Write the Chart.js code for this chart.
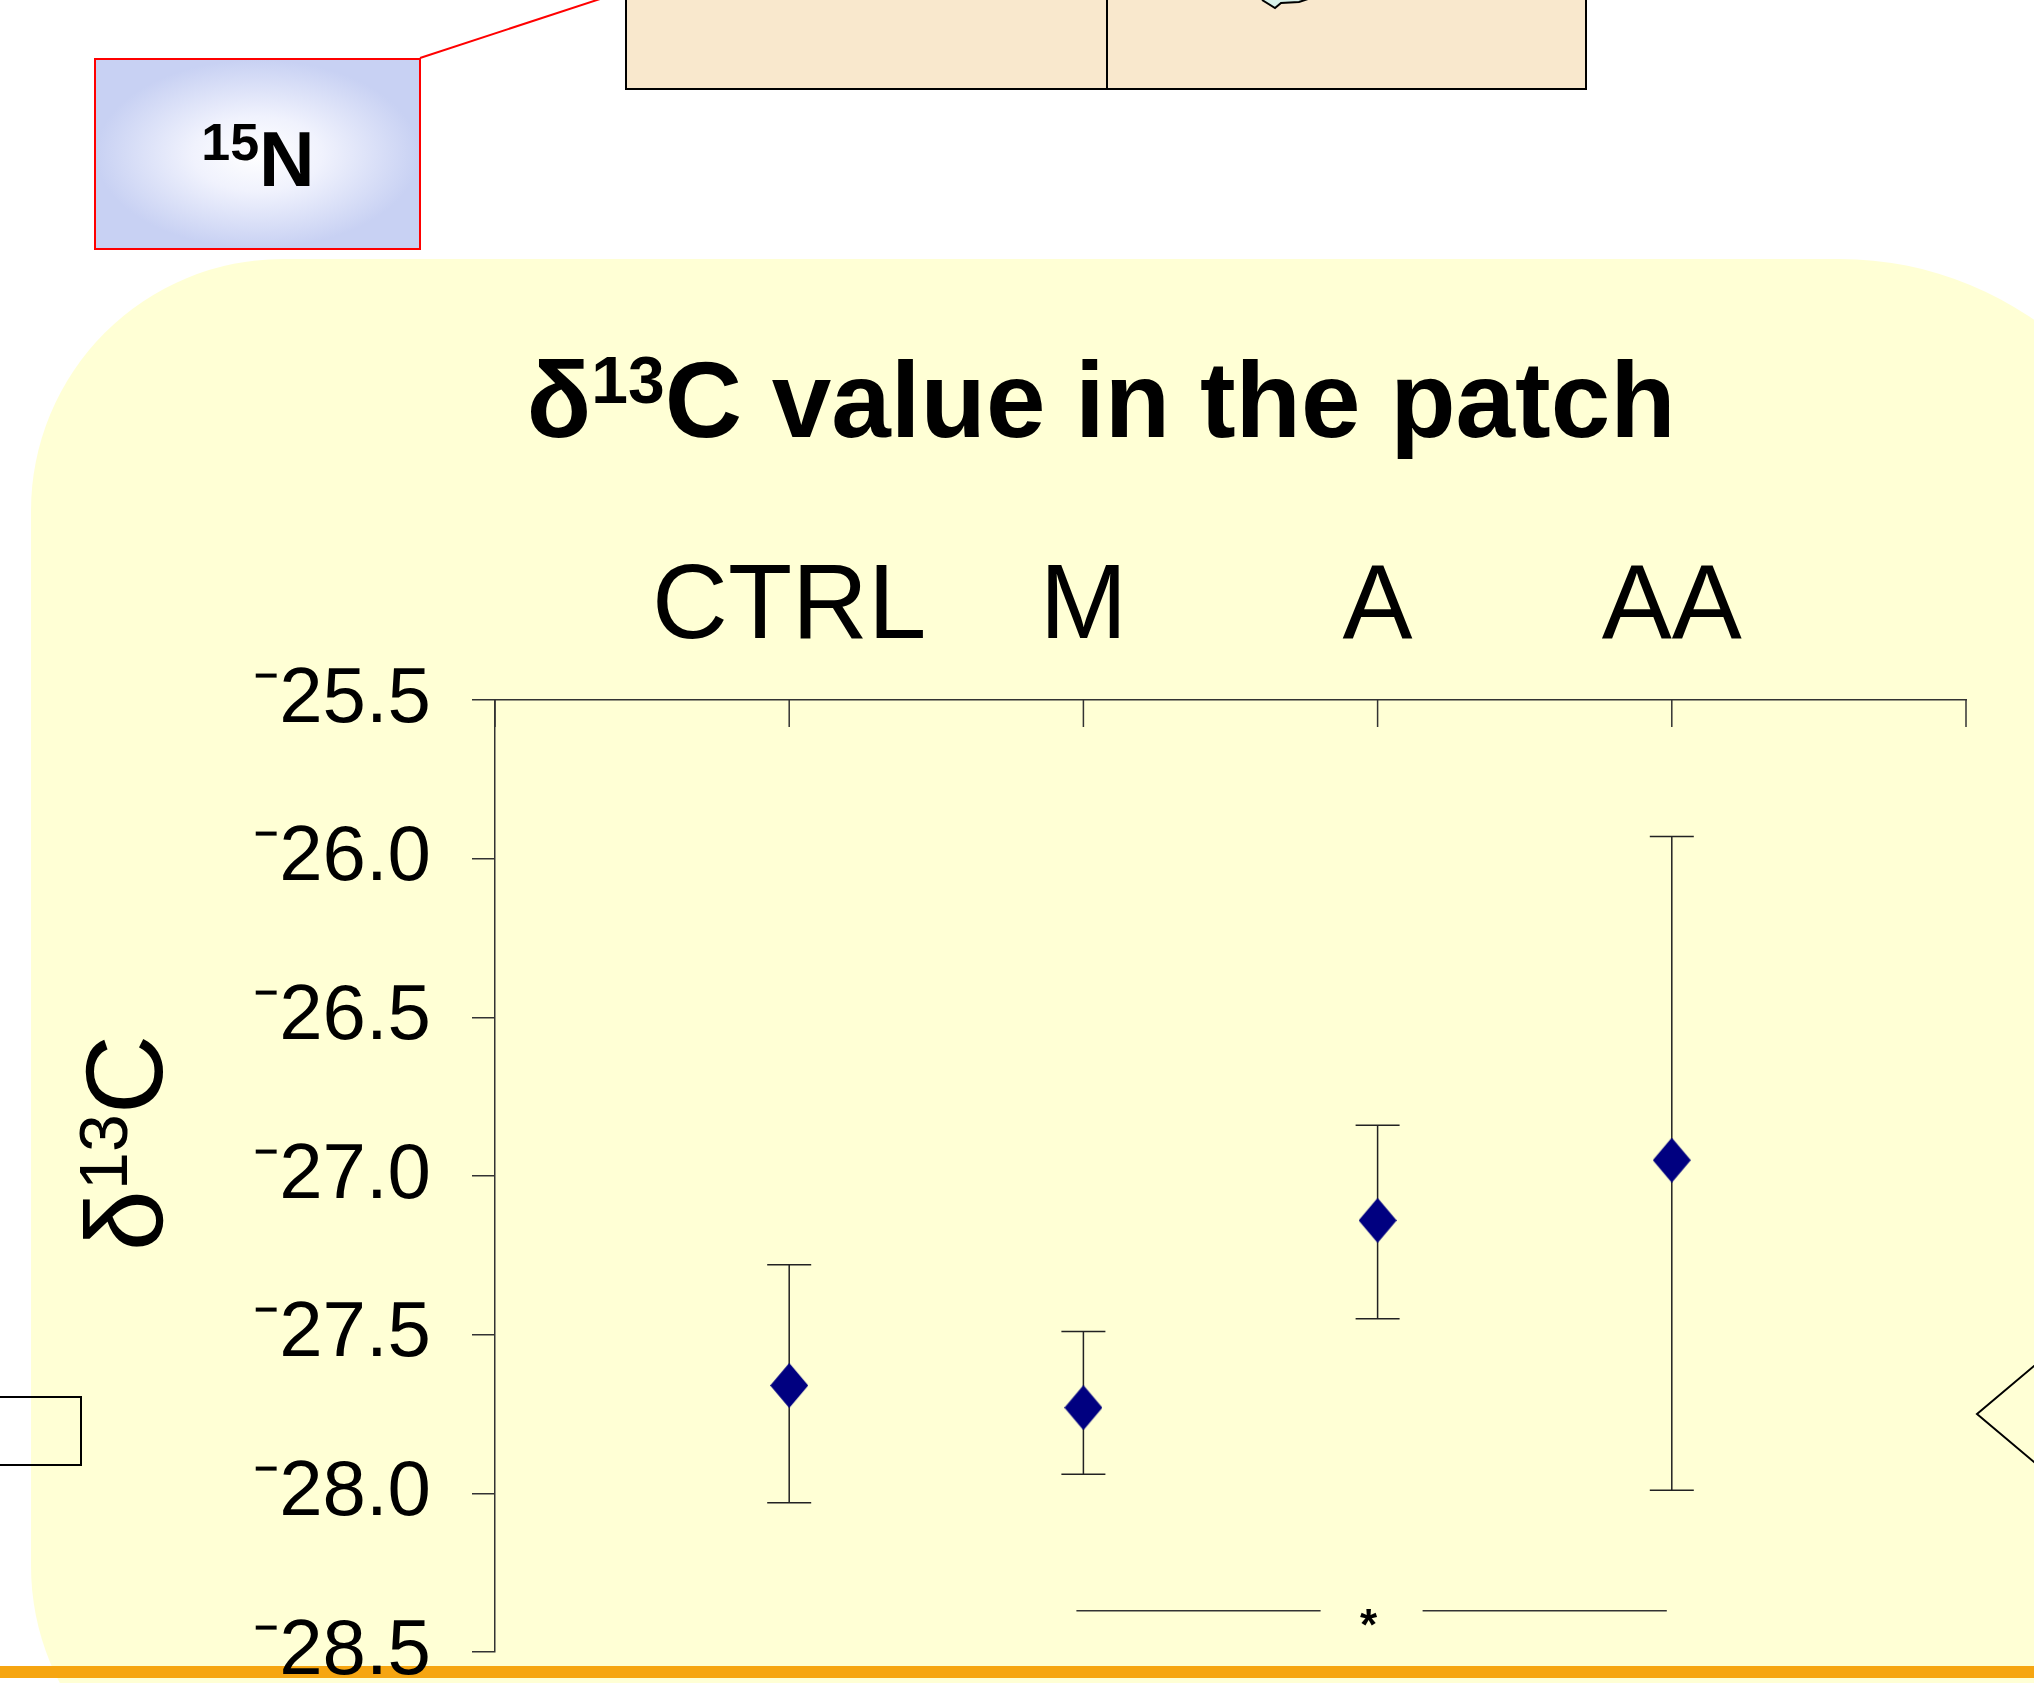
<!DOCTYPE html>
<html lang="en">
<head>
    <meta charset="UTF-8">
    <title>δ13C value in the patch</title>
    <script src="https://cdn.jsdelivr.net/npm/chart.js"></script>
    <style>
        html, body { margin: 0; padding: 0; width: 2034px; height: 1683px; overflow: hidden; background: #fff; }
        body { position: relative; font-family: 'Liberation Sans', Arial, sans-serif; color: #000; }
        .panel { position: absolute; left: 31px; top: 259px; width: 2149px; height: 1559px;
                 background: #ffffd5; border-radius: 252px 340px 252px 252px; }
        .orange { position: absolute; left: 0; top: 1666px; width: 2034px; height: 12px; background: #f6a511; }
        .table { position: absolute; left: 625px; top: -4px; width: 958px; height: 90px;
                 background: #f9e8cd; border: 2px solid #000; }
        .table .divider { position: absolute; left: 479px; top: 0; bottom: 0; border-left: 2px solid #000; }
        .isotope { position: absolute; left: 94px; top: 58px; width: 323px; height: 188px; border: 2px solid #f00;
                   background: radial-gradient(ellipse farthest-side at 50% 50%, #ffffff 0%, #f0f2fd 40%, #c8d1f3 100%); }
        .isotope-text { position: absolute; left: 258px; top: 121px; transform: translateX(-50%);
                        font-size: 77px; line-height: 77px; font-weight: bold; white-space: nowrap; }
        .isotope-text span { font-size: 52px; position: relative; top: -26px; }
        #title { position: absolute; left: 1101px; top: 347px; transform: translateX(-50%);
                 font-size: 107px; line-height: 106px; font-weight: bold; white-space: nowrap; }
        #title span { font-size: 66px; position: relative; top: -34px; }
        .ytitle-wrap { position: absolute; left: 162px; top: 1143px; transform: rotate(-90deg); transform-origin: 0 0; }
        #ytitle { position: absolute; left: 0; top: -93px; transform: translateX(-50%);
                  font-size: 110px; line-height: 110px; white-space: nowrap; }
        #ytitle span { font-size: 68px; position: relative; top: -35px; }
        #shapes { position: absolute; left: 0; top: 0; }
        #myChart { position: absolute; left: 0; top: 0; }
    </style>
</head>
<body>
    <div class="panel"></div>
    <div class="orange"></div>
    <div class="table"><div class="divider"></div></div>
    <div class="isotope"></div>
    <div class="isotope-text"><span>15</span>N</div>
    <svg id="shapes" width="2034" height="1683">
        <line x1="420" y1="58" x2="600" y2="-1" stroke="#f00" stroke-width="2"/>
        <path d="M1262,0 L1275,8 L1281,3 L1299,2 L1311,-2" fill="#d9f2ea" stroke="#000" stroke-width="2"/>
        <rect x="-3" y="1397" width="84" height="68" fill="none" stroke="#000" stroke-width="2"/>
        <path d="M2040,1361 L1977,1414 L2040,1467" fill="none" stroke="#000" stroke-width="2"/>
    </svg>

    <canvas id="myChart" width="2034" height="1683"></canvas>

    <div id="title">δ<span>13</span>C value in the patch</div>
    <div class="ytitle-wrap"><div id="ytitle">δ<span>13</span>C</div></div>

    <script>
        const categories = ['CTRL', 'M', 'A', 'AA'];
        const meanValues = [-27.66, -27.73, -27.14, -26.95];
        const upperValues = [-27.28, -27.49, -26.84, -25.93];
        const lowerValues = [-28.03, -27.94, -27.45, -27.99];
        const yMin = -28.5;
        const yMax = -25.5;
        const yStep = 0.5;
        // significance bracket between two groups
        const sigFrom = 'M';
        const sigTo = 'AA';
        const sigLevel = -28.37;
        const sigLabel = '*';

        Chart.defaults.font.family = "'Liberation Sans', Arial, sans-serif";

        function diamond(w, h, color) {
            const c = document.createElement('canvas');
            c.width = w;
            c.height = h;
            const g = c.getContext('2d');
            g.fillStyle = color;
            g.beginPath();
            g.moveTo(w / 2, 0);
            g.lineTo(w, h / 2);
            g.lineTo(w / 2, h);
            g.lineTo(0, h / 2);
            g.closePath();
            g.fill();
            return c;
        }

        const errorBars = {
            id: 'errorBars',
            beforeDatasetsDraw(chart) {
                const {ctx, scales: {x, y}} = chart;
                ctx.save();
                ctx.strokeStyle = '#222';
                ctx.lineWidth = 1.5;
                categories.forEach(function (c, i) {
                    const px = x.getPixelForValue(i + 1);
                    const top = y.getPixelForValue(upperValues[i]);
                    const bot = y.getPixelForValue(lowerValues[i]);
                    ctx.beginPath();
                    ctx.moveTo(px, top);
                    ctx.lineTo(px, bot);
                    ctx.moveTo(px - 22, top);
                    ctx.lineTo(px + 22, top);
                    ctx.moveTo(px - 22, bot);
                    ctx.lineTo(px + 22, bot);
                    ctx.stroke();
                });
                ctx.restore();
            }
        };

        const innerTicks = {
            id: 'innerTicks',
            afterDraw(chart) {
                const {ctx, scales: {x}, chartArea} = chart;
                ctx.save();
                ctx.strokeStyle = '#333';
                ctx.lineWidth = 1.5;
                x.ticks.forEach(function (t) {
                    const px = x.getPixelForValue(t.value);
                    ctx.beginPath();
                    ctx.moveTo(px, chartArea.top);
                    ctx.lineTo(px, chartArea.top + 27);
                    ctx.stroke();
                });
                ctx.restore();
            }
        };

        const sigMark = {
            id: 'sigMark',
            afterDraw(chart) {
                const {ctx, scales: {x, y}} = chart;
                const x1 = x.getPixelForValue(categories.indexOf(sigFrom) + 1);
                const x2 = x.getPixelForValue(categories.indexOf(sigTo) + 1);
                const py = y.getPixelForValue(sigLevel);
                const mid = (x1 + x2) / 2;
                ctx.save();
                ctx.strokeStyle = '#333';
                ctx.lineWidth = 1.5;
                ctx.beginPath();
                ctx.moveTo(x1 - 7, py);
                ctx.lineTo(mid - 57, py);
                ctx.moveTo(mid + 45, py);
                ctx.lineTo(x2 - 5, py);
                ctx.stroke();
                ctx.fillStyle = '#000';
                ctx.font = "bold 44px 'Liberation Sans', Arial, sans-serif";
                ctx.textAlign = 'center';
                ctx.textBaseline = 'alphabetic';
                const m = ctx.measureText(sigLabel);
                ctx.fillText(sigLabel, mid - 9, py + 7 + (m.actualBoundingBoxAscent - m.actualBoundingBoxDescent) / 2);
                ctx.restore();
            }
        };

        const ctx = document.getElementById('myChart').getContext('2d');
        new Chart(ctx, {
            type: 'scatter',
            data: {
                datasets: [{
                    label: 'δ13C',
                    data: categories.map(function (c, i) { return {x: i + 1, y: meanValues[i]}; }),
                    pointStyle: diamond(38, 45, '#000080'),
                    pointRadius: 20,
                    backgroundColor: '#000080',
                    borderColor: '#000080',
                    showLine: false
                }]
            },
            options: {
                responsive: false,
                animation: false,
                devicePixelRatio: 1,
                layout: {
                    padding: {left: 0, top: 0, right: 68, bottom: 31}
                },
                plugins: {
                    legend: {display: false},
                    tooltip: {enabled: false},
                    title: {display: false}
                },
                scales: {
                    x: {
                        type: 'linear',
                        position: 'top',
                        min: 0,
                        max: categories.length + 1,
                        afterFit: function (s) { s.height = 700; },
                        ticks: {
                            stepSize: 1,
                            autoSkip: false,
                            maxRotation: 0,
                            padding: 28,
                            color: '#000',
                            font: {size: 105, lineHeight: 1.2},
                            callback: function (v) { return categories[v - 1] || ''; }
                        },
                        grid: {drawOnChartArea: false, drawTicks: false},
                        border: {color: '#333', width: 1.5}
                    },
                    y: {
                        type: 'linear',
                        min: yMin,
                        max: yMax,
                        afterFit: function (s) { s.width = 495; s.paddingTop = 0; s.paddingBottom = 0; },
                        ticks: {
                            stepSize: yStep,
                            autoSkip: false,
                            padding: 41,
                            color: '#000',
                            font: {size: 78, lineHeight: 0.8},
                            callback: function (v) { return '⁻' + Math.abs(v).toFixed(1); }
                        },
                        grid: {drawOnChartArea: false, drawTicks: true, tickLength: 23, color: '#333', lineWidth: 1.5},
                        border: {color: '#333', width: 1.5}
                    }
                }
            },
            plugins: [errorBars, innerTicks, sigMark]
        });
    </script>
</body>
</html>
